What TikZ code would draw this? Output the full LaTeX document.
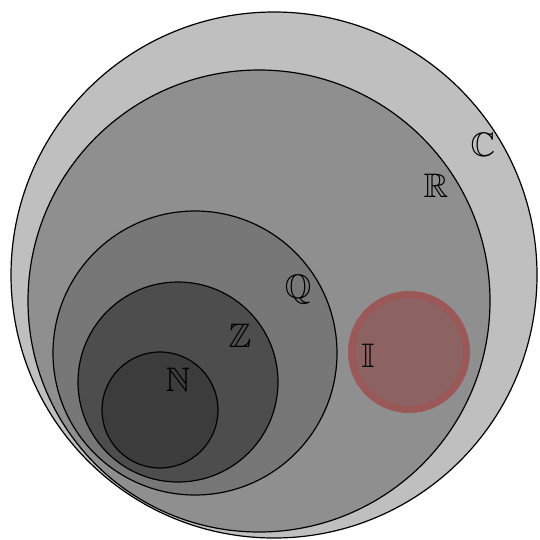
\documentclass[tikz,border=0pt]{standalone}
\usepackage{amssymb}
\definecolor{cC}{RGB}{191,191,191}
\definecolor{cR}{RGB}{143,143,143}
\definecolor{cQ}{RGB}{119,119,119}
\definecolor{cZ}{RGB}{77,77,77}
\definecolor{cN}{RGB}{60,60,60}
\definecolor{cIb}{RGB}{155,88,88}
\definecolor{cIf}{RGB}{140,98,98}
\tikzset{
  setc/.style={circle, draw=black, line width=1.2pt, inner sep=0pt, minimum size=#1},
  lab/.style={font=\fontsize{34}{40}\selectfont, inner sep=0pt}
}
\begin{document}
\begin{tikzpicture}[x=1pt,y=-1pt]
\useasboundingbox (0,0) rectangle (540,539);
\node[setc=526pt, fill=cC] (C) at (274,275) {};
\node[setc=462pt, fill=cR] (R) at (259,301) {};
\node[circle, draw=cIb, fill=cIf, line width=7pt, inner sep=0pt, minimum size=115pt] (I) at (409,352) {};
\node[setc=284pt, fill=cQ] (Q) at (195,353) {};
\node[setc=200pt, fill=cZ] (Z) at (178,382) {};
\node[setc=116pt, fill=cN] (N) at (160,410) {};
\node[lab] (lC) at (483,145) {$\mathbb{C}$};
\node[lab] (lR) at (436,186) {$\mathbb{R}$};
\node[lab] (lQ) at (298,290) {$\mathbb{Q}$};
\node[lab] (lZ) at (240,336) {$\mathbb{Z}$};
\node[lab] (lN) at (178,380) {$\mathbb{N}$};
\node[lab] (lI) at (368,356) {$\mathbb{I}$};
\end{tikzpicture}
\end{document}
